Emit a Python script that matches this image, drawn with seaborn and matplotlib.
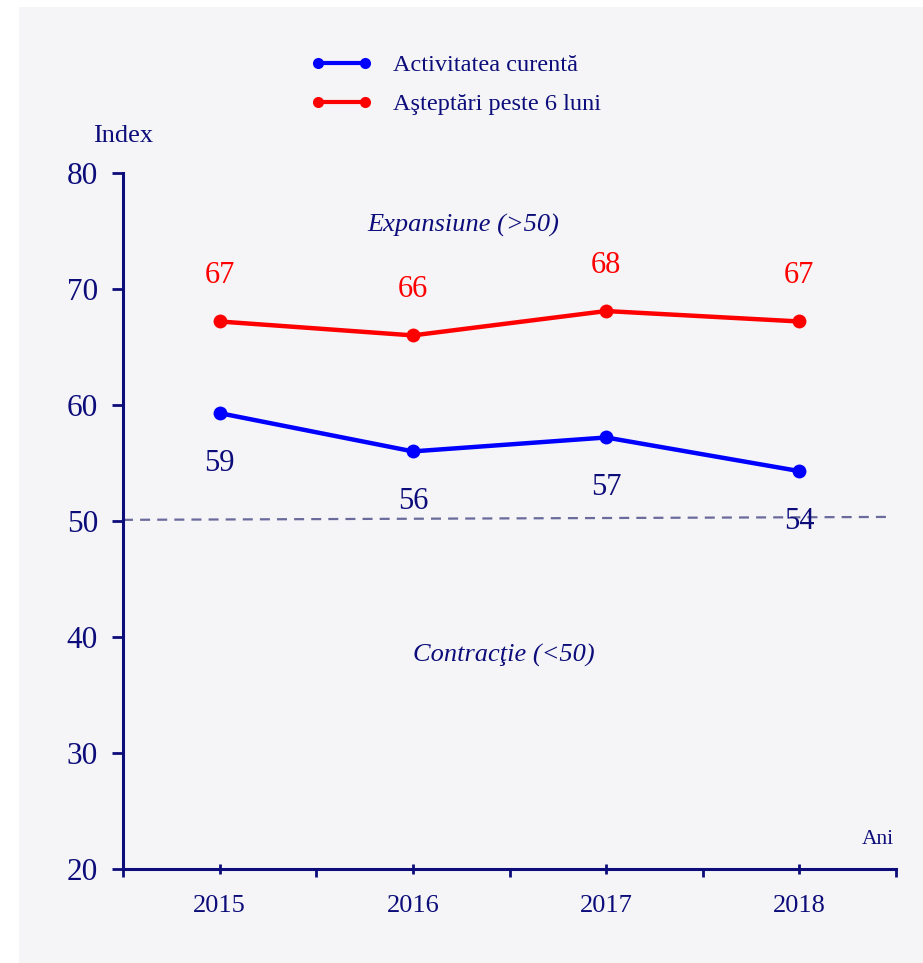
import matplotlib
matplotlib.use("Agg")
import matplotlib.pyplot as plt
import seaborn as sns
import pandas as pd
from matplotlib.patches import Rectangle

years = ["2015", "2016", "2017", "2018"]
current = [59.3, 56.0, 57.2, 54.3]
expect6 = [67.2, 66.0, 68.1, 67.2]
current_labels = ["59", "56", "57", "54"]
expect_labels = ["67", "66", "68", "67"]
series_names = ["Activitatea curentă", "Aşteptări peste 6 luni"]
y_ticks = [20, 30, 40, 50, 60, 70, 80]
ref_x = [-0.5, 3.45]
ref_y = [50.1, 50.35]

NAVY = "#0c0c7a"
sns.set_style("white")
plt.rcParams["font.family"] = ["Liberation Serif", "DejaVu Serif"]

df = pd.DataFrame({
    "x": list(range(len(years))) * 2,
    "value": current + expect6,
    "series": [series_names[0]] * len(years) + [series_names[1]] * len(years),
})

fig = plt.figure(figsize=(9.23, 9.63), dpi=100, facecolor="white")
fig.patches.append(Rectangle((19 / 923, 0), 1, 1 - 7 / 963, transform=fig.transFigure,
                             facecolor="#f5f5f8", edgecolor="none", zorder=-10))
ax = fig.add_axes([123 / 923, 1 - 869 / 963, (896 - 123) / 923, (869 - 173) / 963])
ax.set_facecolor("none")

sns.lineplot(data=df, x="x", y="value", hue="series", ax=ax,
             palette={series_names[0]: "#0000ff", series_names[1]: "#ff0000"},
             marker="o", markersize=10, markeredgewidth=0, linewidth=3.2, legend=True)

ax.plot(ref_x, ref_y, color="#6a6a9c", linewidth=1.6, dashes=(4.5, 3.2), zorder=1)

for i, (v, lab) in enumerate(zip(expect6, expect_labels)):
    ax.annotate(lab, (i, v), xytext=(0, 33), textcoords="offset points",
                ha="center", va="center", fontsize=22, color="#ff0000")
for i, (v, lab) in enumerate(zip(current, current_labels)):
    ax.annotate(lab, (i, v), xytext=(0, -36), textcoords="offset points",
                ha="center", va="center", fontsize=22, color=NAVY)

ax.text(1.26, 75.5, "Expansiune (>50)", style="italic", fontsize=19, color=NAVY,
        ha="center", va="center")
ax.text(1.47, 38.4, "Contracţie (<50)", style="italic", fontsize=19, color=NAVY,
        ha="center", va="center")
ax.text(0, 1.053, "Index", transform=ax.transAxes, fontsize=19, color=NAVY,
        ha="center", va="center")
ax.text(0.977, 0.043, "Ani", transform=ax.transAxes, fontsize=15.5, color=NAVY,
        ha="center", va="center")

ax.set_xlim(-0.5, 3.5)
ax.set_ylim(20, 80)
ax.set_xticks(range(len(years)))
ax.set_xticklabels(years)
ax.set_xticks([-0.5, 0.5, 1.5, 2.5, 3.5], minor=True)
ax.set_yticks(y_ticks)
ax.set_xlabel("")
ax.set_ylabel("")
for s in ["top", "right"]:
    ax.spines[s].set_visible(False)
for s in ["left", "bottom"]:
    ax.spines[s].set_color(NAVY)
    ax.spines[s].set_linewidth(2.2)
ax.tick_params(axis="x", which="major", bottom=True, direction="inout", length=7, width=2,
               color=NAVY, labelcolor=NAVY, labelsize=19, pad=15)
ax.tick_params(axis="x", which="minor", bottom=True, direction="out", length=6, width=2,
               color=NAVY)
ax.tick_params(axis="y", which="major", left=True, direction="out", length=8, width=2,
               color=NAVY, labelcolor=NAVY, labelsize=22.5, pad=10)

handles, labels = ax.get_legend_handles_labels()
leg = ax.legend(handles, labels, numpoints=2, frameon=False, fontsize=17.5,
                loc="upper left", bbox_to_anchor=(311 / 923, 1 - 54 / 963),
                bbox_transform=fig.transFigure, handlelength=2.53, handletextpad=0.86,
                labelspacing=0.7, borderpad=0, borderaxespad=0)
for t in leg.get_texts():
    t.set_color(NAVY)
for h in leg.get_lines():
    h.set_linewidth(3)
    h.set_markersize(8)

fig.savefig("out.png", dpi=100, facecolor="white")
